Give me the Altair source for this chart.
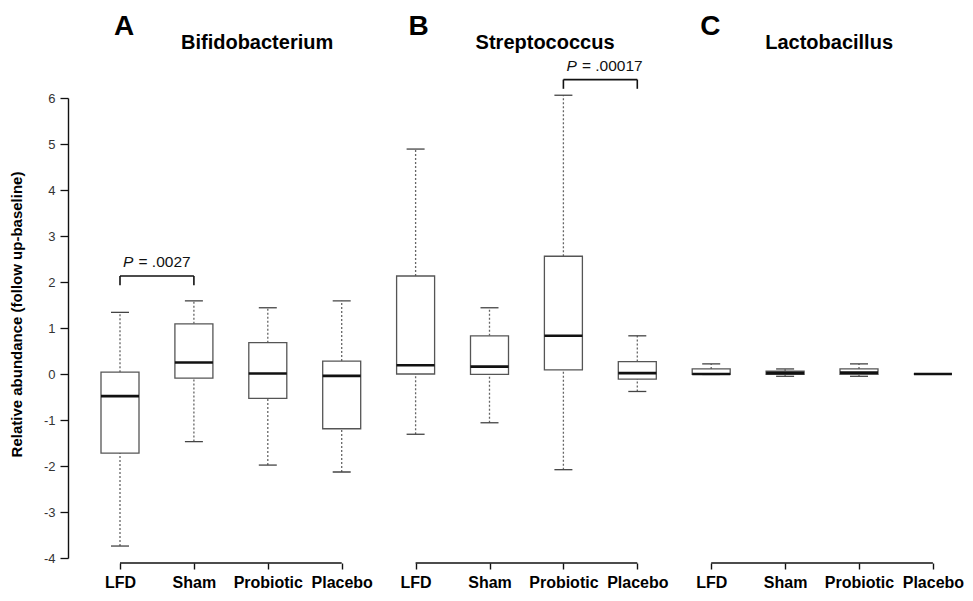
import altair as alt
import pandas as pd

groups = ["LFD", "Sham", "Probiotic", "Placebo"]
panels = ["Bifidobacterium", "Streptococcus", "Lactobacillus"]
letters = ["A", "B", "C"]

# box statistics: lower whisker, Q1, median, Q3, upper whisker
lower = [[-3.74, -1.47, -1.98, -2.13], [-1.31, -1.06, -2.08, -0.38], [-0.01, -0.05, -0.05, 0.0]]
q1 = [[-1.72, -0.09, -0.53, -1.19], [0.0, -0.01, 0.09, -0.11], [-0.01, -0.01, -0.01, 0.0]]
median = [[-0.48, 0.25, 0.01, -0.04], [0.19, 0.16, 0.83, 0.02], [0.0, 0.02, 0.03, 0.0]]
q3 = [[0.04, 1.09, 0.68, 0.28], [2.13, 0.83, 2.56, 0.27], [0.11, 0.06, 0.11, 0.0]]
upper = [[1.34, 1.59, 1.44, 1.59], [4.89, 1.44, 6.06, 0.83], [0.22, 0.11, 0.22, 0.0]]

# significance brackets
br_panel = ["A", "B"]
br_from = ["LFD", "Probiotic"]
br_to = ["Sham", "Placebo"]
br_level = [2.13, 6.40]
br_text = ["= .0027", "= .00017"]

y_ticks = [-4, -3, -2, -1, 0, 1, 2, 3, 4, 5, 6]

FONT = "Liberation Sans"
PAD_L, PAD_T = 75, 90
H = 460
W = 957 - PAD_L
STEP = 73.9
X0 = 37
keys = [f"{l}|{g}" for l in letters for g in groups]

rows = []
for i, l in enumerate(letters):
    for j, g in enumerate(groups):
        rows.append({"key": f"{l}|{g}", "lower": lower[i][j], "q1": q1[i][j],
                     "median": median[i][j], "q3": q3[i][j], "upper": upper[i][j]})
df = pd.DataFrame(rows)

xscale = alt.Scale(type="point", domain=keys, range=[X0, X0 + STEP * (len(keys) - 1)], padding=0)
yscale = alt.Scale(domain=[-4, 6], nice=False, zero=False)

xaxis = alt.Axis(
    title=None, labelAngle=0, labelFontSize=16, labelFontWeight="bold", labelColor="black",
    labelFont=FONT, labelExpr="slice(datum.value, indexof(datum.value, '|') + 1)",
    domain=False, tickColor="#111", tickWidth=1.4, tickSize=6, labelPadding=5, offset=5,
    labelOverlap=False, labelBound=False,
)
yaxis = alt.Axis(
    values=y_ticks, labelExpr="'' + datum.value", labelFontSize=13, labelColor="#333",
    labelFont=FONT, tickSize=8, tickColor="#111", tickWidth=1.3,
    domainColor="#111", domainWidth=1.4, offset=15, grid=False, labelPadding=5,
    title="Relative abundance (follow up-baseline)", titleFont=FONT,
    titleFontSize=15, titleFontWeight="bold", titleColor="black",
    titleX=-44, titleY=216,
)

def X(field, axis=alt.Undefined):
    return alt.X(f"{field}:N", sort=keys, scale=xscale, axis=axis)

def Y(field, axis=alt.Undefined):
    return alt.Y(f"{field}:Q", scale=yscale, axis=axis)

base = alt.Chart(df)
wh_up = base.mark_rule(color="#666", strokeDash=[2, 2], strokeWidth=1.3).encode(
    x=X("key", xaxis), y=Y("q3", yaxis), y2="upper")
wh_lo = base.mark_rule(color="#666", strokeDash=[2, 2], strokeWidth=1.3).encode(
    x=X("key"), y=Y("lower"), y2="q1")
box = base.mark_bar(size=38, fill="white", stroke="#555", strokeWidth=1.3).encode(
    x=X("key"), y=Y("q1"), y2="q3")
cap_u = base.mark_tick(size=18, thickness=1.3, color="#444", opacity=1).encode(
    x=X("key"), y=Y("upper"))
cap_l = base.mark_tick(size=18, thickness=1.3, color="#444", opacity=1).encode(
    x=X("key"), y=Y("lower"))
med = base.mark_tick(size=38, thickness=2.6, color="#111", opacity=1).encode(
    x=X("key"), y=Y("median"))
layers = [wh_up, wh_lo, box, cap_u, cap_l, med]

# bracket-style x-axis lines, one per panel (first to last group)
adf = pd.DataFrame({"first": [f"{l}|{groups[0]}" for l in letters],
                    "last": [f"{l}|{groups[-1]}" for l in letters]})
layers.append(alt.Chart(adf).mark_rule(color="#111", strokeWidth=1.4).encode(
    x=X("first"), x2="last", y=alt.value(H + 5)))

# significance brackets
bdf = pd.DataFrame({"g1": [f"{p}|{g}" for p, g in zip(br_panel, br_from)],
                    "g2": [f"{p}|{g}" for p, g in zip(br_panel, br_to)],
                    "level": br_level, "txt": br_text})
bdf["low"] = bdf["level"] - 0.2
layers.append(alt.Chart(bdf).mark_rule(color="#111", strokeWidth=1.6).encode(
    x=X("g1"), x2="g2", y=Y("level")))
layers.append(alt.Chart(bdf).mark_rule(color="#111", strokeWidth=1.6).encode(
    x=X("g1"), y=Y("low"), y2="level"))
layers.append(alt.Chart(bdf).mark_rule(color="#111", strokeWidth=1.6).encode(
    x=X("g2"), y=Y("low"), y2="level"))
layers.append(alt.Chart(bdf).mark_text(
    align="left", baseline="alphabetic", dx=3, dy=-9, fontSize=15.5,
    fontStyle="italic", font=FONT, color="#111").encode(
    x=X("g1"), y=Y("level"), text=alt.value("P")))
layers.append(alt.Chart(bdf).mark_text(
    align="left", baseline="alphabetic", dx=18.5, dy=-9, fontSize=15.5,
    font=FONT, color="#111").encode(
    x=X("g1"), y=Y("level"), text="txt:N"))

# panel letters and genus titles
letter_dx = {"A": -6, "B": -7, "C": -11}
title_dx = {"A": 61, "B": 60, "C": 54}
for l, name in zip(letters, panels):
    tdf = pd.DataFrame({"key": [f"{l}|{groups[0]}"], "letter": [l], "name": [name]})
    layers.append(alt.Chart(tdf).mark_text(
        align="left", baseline="alphabetic", fontSize=28, fontWeight="bold", font=FONT,
        color="black", dx=letter_dx[l]).encode(
        x=X("key"), y=alt.value(-63), text="letter:N"))
    layers.append(alt.Chart(tdf).mark_text(
        align="left", baseline="alphabetic", fontSize=20, fontWeight="bold", font=FONT,
        color="black", dx=title_dx[l]).encode(
        x=X("key"), y=alt.value(-49), text="name:N"))

chart = alt.layer(*layers).properties(
    width=W, height=H,
    autosize=alt.AutoSizeParams(type="none"),
    padding={"left": PAD_L, "top": PAD_T, "right": 0, "bottom": 585 - PAD_T - H},
).configure(background="white", font=FONT, view=alt.ViewConfig(stroke=None))

chart.save("out.html", embed_options={"renderer": "svg", "actions": False})
